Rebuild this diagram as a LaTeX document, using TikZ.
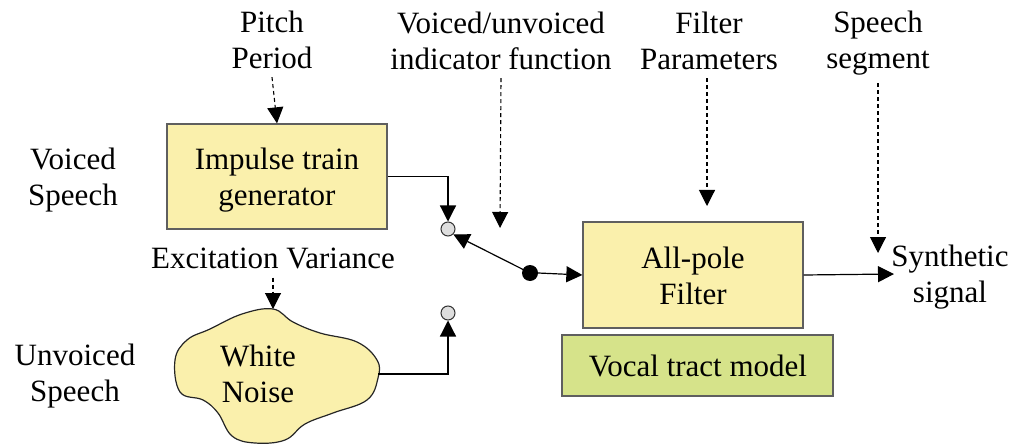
\documentclass[tikz,border=0pt]{standalone}
\usepackage{fontspec}
\setmainfont{Liberation Serif}
\usetikzlibrary{arrows.meta}
\definecolor{boxyellow}{RGB}{250,240,172}
\definecolor{boxgreen}{RGB}{214,227,138}
\definecolor{edgegray}{RGB}{95,95,95}
\definecolor{portgray}{RGB}{222,222,222}
\tikzset{
  lbl/.style={align=center, inner sep=0pt, font=\fontsize{31}{36}\selectfont},
  blk/.style={draw=edgegray, line width=1.3pt, fill=boxyellow, inner sep=0pt},
  flow/.style={line width=1.2pt, -{Triangle[length=16pt,width=16pt]}},
  ctrl/.style={line width=1.1pt, dash pattern=on 4pt off 3pt, -{Triangle[length=16pt,width=16pt]}},
  port/.style={circle, draw=black!80, line width=1pt, fill=portgray, minimum size=14pt, inner sep=0pt},
}
\begin{document}
\begin{tikzpicture}[x=1pt,y=-1pt]
\useasboundingbox (0,0) rectangle (1024,446);

% parameter labels along the top
\node[lbl] (pitch) at (272,40) {Pitch\\Period};
\node[lbl] (vuv) at (501,41) {Voiced/unvoiced\\indicator function};
\node[lbl] (fpar) at (709,41) {Filter\\Parameters};
\node[lbl] (seg) at (878,43) {Speech\\segment};

% side labels
\node[lbl] (voiced) at (73,180) {Voiced\\Speech};
\node[lbl] (unvoiced) at (75,376) {Unvoiced\\Speech};
\node[lbl] (excvar) at (273,258) {Excitation Variance};
\node[lbl] (synth) at (950,277) {Synthetic\\signal};

% excitation sources
\node[blk, minimum width=220pt, minimum height=105pt] (imp) at (277,176.5) {};
\node[lbl] (impT) at (277,180) {Impulse train\\generator};
\path[draw=black!85, line width=1.2pt, fill=boxyellow]
  plot[smooth cycle, tension=0.65] coordinates {
    (273,309) (293,322) (320,333) (357,342) (377,360) (378,378)
    (367,400) (333,413) (305,424) (285,440) (255,443) (232,436)
    (218,413) (203,400) (180,392) (175,360) (187,340) (210,329) (242,314)};
\node[lbl] (noise) at (258,374) {White\\Noise};
\coordinate (noiseR) at (378,374);
\coordinate (noiseT) at (273,309);

% voiced/unvoiced switch
\node[port] (swA) at (448,229) {};
\node[port] (swB) at (448,313) {};
\node[circle, fill=black, minimum size=16pt, inner sep=0pt] (pivot) at (530,273) {};
\coordinate (vuvEnd) at (500,228);

% vocal tract model
\node[blk, minimum width=220pt, minimum height=106pt] (filt) at (693,275) {};
\node[lbl] (filtT) at (693,276) {All-pole\\Filter};
\node[blk, fill=boxgreen, minimum width=271pt, minimum height=61pt] (vtm) at (697.5,365.5) {};
\node[lbl] (vtmT) at (698,366) {Vocal tract model};
\coordinate (filtIn) at (707,206);
\coordinate (outEnd) at (894,274);
\coordinate (segEnd) at (878,253);

% control inputs (dashed)
\draw[ctrl] (pitch.south) ++(0,8) -- (imp.north);
\draw[ctrl] (excvar.south) ++(0,9) -- (noiseT);
\draw[ctrl] (vuv.south) ++(0,8) -- (vuvEnd);
\draw[ctrl] (fpar.south) ++(-2,8) -- (filtIn);
\draw[ctrl] (seg.south) ++(0,8) -- (segEnd);

% signal path
\draw[flow] (imp.east) -| (swA.north);
\draw[flow] (noiseR) -| (swB.south);
\draw[flow] (pivot.center) -- (swA.south east);
\draw[flow] (pivot.east) -- (filt.west);
\draw[flow] (filt.east) -- (outEnd);
\end{tikzpicture}
\end{document}
